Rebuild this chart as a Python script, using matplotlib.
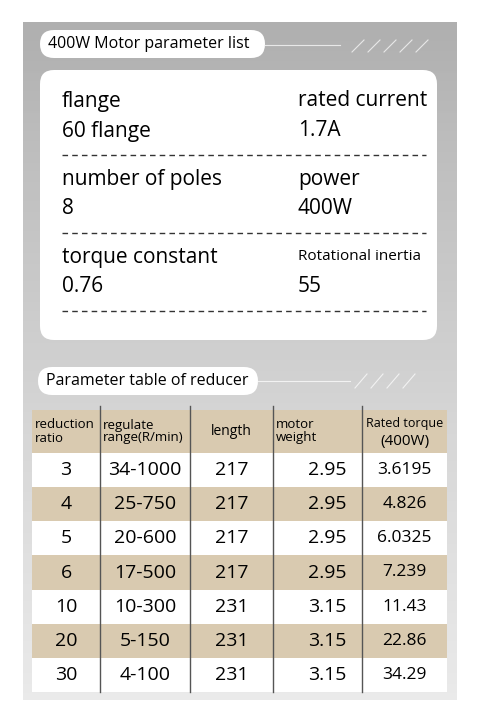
import matplotlib.pyplot as plt
from matplotlib.patches import FancyBboxPatch, Rectangle
import numpy as np

plt.rcParams['font.family'] = ['Open Sans', 'DejaVu Sans']

motor_params = [
    ("flange", "60 flange", "rated current", "1.7A"),
    ("number of poles", "8", "power", "400W"),
    ("torque constant", "0.76", "Rotational inertia", "55"),
]

header = ["reduction\nratio", "regulate\nrange(R/min)", "length", "motor\nweight", "Rated torque\n(400W)"]
ratio = ["3", "4", "5", "6", "10", "20", "30"]
speed_range = ["34-1000", "25-750", "20-600", "17-500", "10-300", "5-150", "4-100"]
length = ["217", "217", "217", "217", "231", "231", "231"]
weight = ["2.95", "2.95", "2.95", "2.95", "3.15", "3.15", "3.15"]
torque = ["3.6195", "4.826", "6.0325", "7.239", "11.43", "22.86", "34.29"]

fig = plt.figure(figsize=(4.8, 7.14), dpi=100)
ax = fig.add_axes([0, 0, 1, 1])
ax.set_xlim(0, 480)
ax.set_ylim(714, 0)
ax.axis('off')

# gray panel with vertical gradient
grad = np.linspace(0, 1, 256).reshape(-1, 1)
ax.imshow(grad, cmap='Greys_r', vmin=-2.2, vmax=1.6, extent=(23, 457, 700, 22), aspect='auto', zorder=0)

def pill(x, y, w, h, text, size):
    ax.add_patch(FancyBboxPatch((x, y), w, h, boxstyle="round,pad=0,rounding_size=%d" % (h / 2),
                                fc='white', ec='none', zorder=2))
    ax.text(x + 8, y + h / 2, text, fontsize=size, va='center', ha='left', zorder=3)

pill(40, 30, 225, 28, "400W Motor parameter list", 11.5)
ax.plot([265, 340], [45, 45], color='#e8e8e8', lw=0.8, zorder=2)
for i in range(5):
    ax.plot([352 + i * 16, 364 + i * 16], [52, 40], color='#e8e8e8', lw=0.8, zorder=2)

pill(38, 367, 220, 28, "Parameter table of reducer", 11.5)
ax.plot([258, 350], [381, 381], color='#f2f2f2', lw=0.8, zorder=2)
for i in range(4):
    ax.plot([355 + i * 16, 367 + i * 16], [388, 374], color='#f2f2f2', lw=0.8, zorder=2)

# white card
ax.add_patch(FancyBboxPatch((40, 70), 397, 270, boxstyle="round,pad=0,rounding_size=14",
                            fc='white', ec='none', zorder=2))
for i, (l1, v1, l2, v2) in enumerate(motor_params):
    y0 = 101 + i * 78
    ax.text(62, y0, l1, fontsize=15, va='center', zorder=3)
    ax.text(62, y0 + 30, v1, fontsize=15, va='center', zorder=3)
    ax.text(298, y0, l2, fontsize=11 if len(l2) > 15 else 15, va='center', zorder=3)
    ax.text(298, y0 + 30, v2, fontsize=15, va='center', zorder=3)
    ax.plot([62, 426], [y0 + 54, y0 + 54], color='#333333', lw=1, ls=(0, (4, 3)), zorder=3)

# reducer table
col_edges = [32, 100, 190, 273, 362, 447]
head_top, head_bot, tab_bot = 410, 453, 692
row_h = (tab_bot - head_bot) / len(ratio)
tan = '#d9cab0'
ax.add_patch(Rectangle((32, head_top), 415, head_bot - head_top, fc=tan, ec='none', zorder=2))
columns = [ratio, speed_range, length, weight, torque]
for r in range(len(ratio)):
    y = head_bot + r * row_h
    ax.add_patch(Rectangle((32, y), 415, row_h, fc=tan if r % 2 else 'white', ec='none', zorder=2))
    for c, col in enumerate(columns):
        xc = (col_edges[c] + col_edges[c + 1]) / 2
        if c == 3:
            xc += 10
        ax.text(xc, y + row_h / 2, col[r], fontsize=12.5 if c == 4 else 14, ha='center', va='center', zorder=3)
for x in col_edges[1:-1]:
    ax.plot([x, x], [head_top - 4, tab_bot], color='#555555', lw=1, zorder=3)
for c, h in enumerate(header):
    xc = (col_edges[c] + col_edges[c + 1]) / 2
    if c in (0, 1, 3):
        ax.text(col_edges[c] + 3, (head_top + head_bot) / 2, h, fontsize=9.5, ha='left', va='center',
                linespacing=1.0, zorder=3)
    elif c == 4:
        ax.text(xc, head_top + 14, "Rated torque", fontsize=9, ha='center', va='center', zorder=3)
        ax.text(xc, head_top + 31, "(400W)", fontsize=11, ha='center', va='center', zorder=3)
    else:
        ax.text(xc, (head_top + head_bot) / 2, h, fontsize=10, ha='center', va='center', zorder=3)

fig.savefig("out.png", dpi=100)
